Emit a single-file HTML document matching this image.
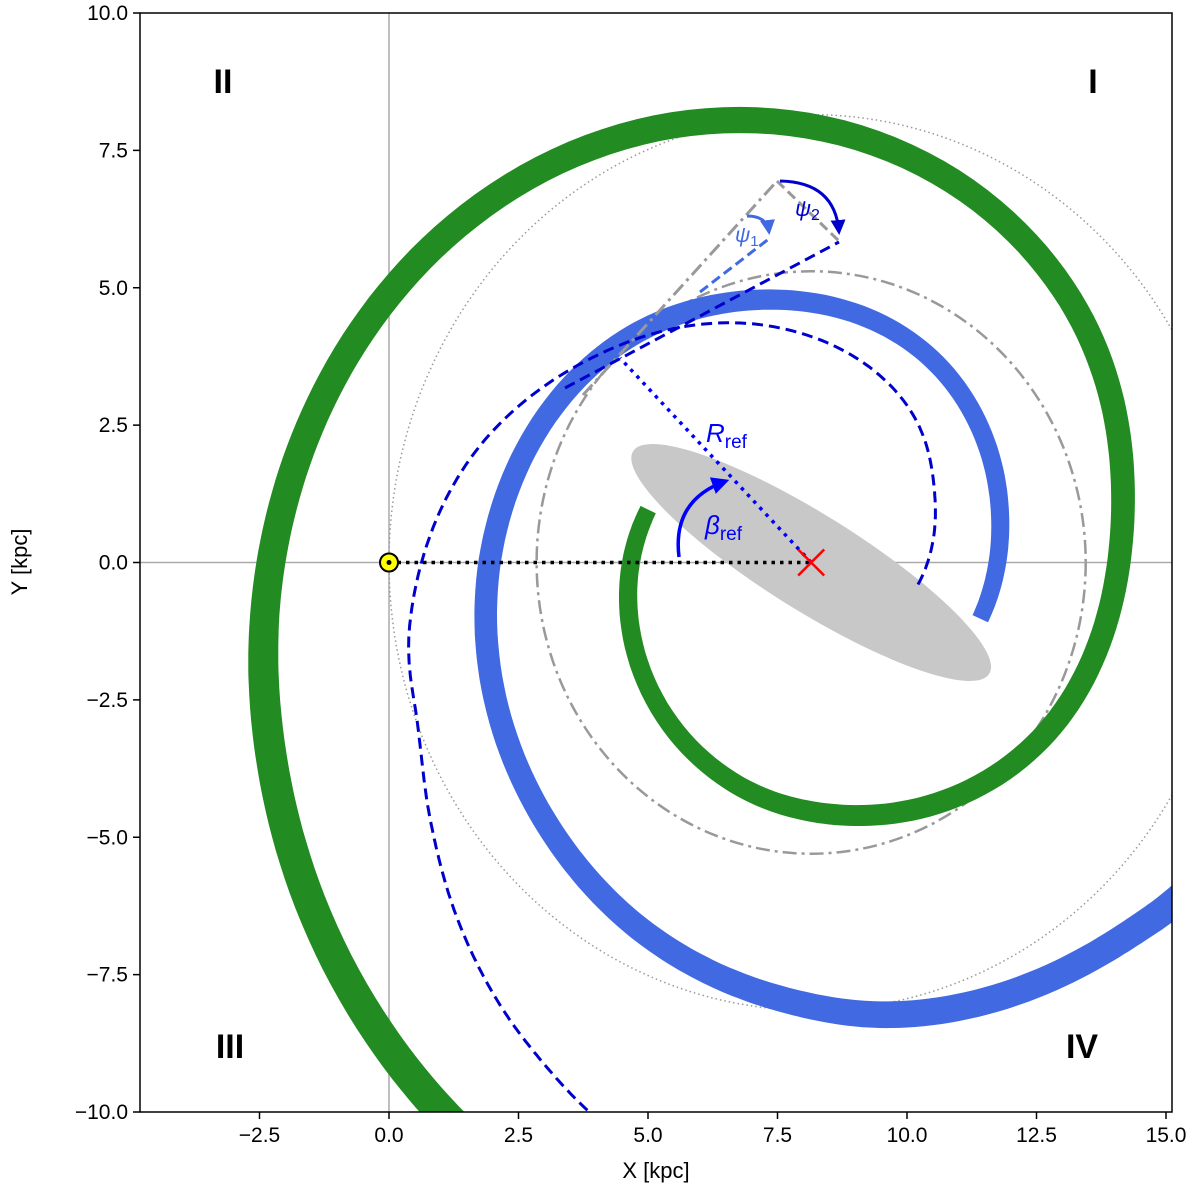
<!DOCTYPE html>
<html><head><meta charset="utf-8"><style>
body{margin:0;background:#fff}
svg text{font-family:"Liberation Sans","DejaVu Sans",sans-serif}
</style></head><body>
<svg id="chart" width="1200" height="1193" viewBox="0 0 1200 1193" xmlns="http://www.w3.org/2000/svg">
<defs>
<clipPath id="plotclip"><rect x="140" y="13" width="1032" height="1099"/></clipPath>
<marker id="arrB" viewBox="0 0 10 10" refX="8" refY="5" markerWidth="5" markerHeight="5" orient="auto"><path d="M0,0 L10,5 L0,10 z" fill="#0000cd"/></marker>
<marker id="arrL" viewBox="0 0 10 10" refX="8" refY="5" markerWidth="5" markerHeight="5" orient="auto"><path d="M0,0 L10,5 L0,10 z" fill="#4169e1"/></marker>
<marker id="arrBl" viewBox="0 0 10 10" refX="8" refY="5" markerWidth="5" markerHeight="5" orient="auto"><path d="M0,0 L10,5 L0,10 z" fill="#0000ff"/></marker>
</defs>
<g id="plot" clip-path="url(#plotclip)"></g>
<g id="axes"></g>
</svg>
<script>
const xTicks=[-2.5,0,2.5,5,7.5,10,12.5,15];
const yTicks=[-10,-7.5,-5,-2.5,0,2.5,5,7.5,10];
const xTickLabels=["−2.5","0.0","2.5","5.0","7.5","10.0","12.5","15.0"];
const yTickLabels=["−10.0","−7.5","−5.0","−2.5","0.0","2.5","5.0","7.5","10.0"];
const gc=[8.15,0];
const sun=[0,0];
const circleRadii=[8.15,5.3];
// arms as polar samples around the Galactic centre: angle (deg, unwrapped) and radius (kpc)
const greenArmTheta=[163,191,248,279,324,365.6,403.7,459.7,509.1,540,549.7,562.8,593.6,602];
const greenArmR=[3.29,3.6,4.26,4.66,5.47,6.03,6.92,8.17,9.5,10.43,10.73,11.14,12.25,12.55];
const blueArmTheta=[-17.4,11.9,56,99.4,136.5,179.5,219.2,244.8,265.7,281.7,308.4,318,325];
const blueArmR=[3.42,3.73,4.35,4.85,5.5,6.2,6.9,7.47,7.96,8.4,9.03,9.33,9.55];
const dashArmTheta=[-11,25.5,55.5,98,133,164,187.7,201.5,212.2,223.4,232.7,240,246.5,250];
const dashArmR=[2.1,2.65,3.37,4.31,5.41,6.85,7.81,8.16,8.70,9.41,10.01,10.45,10.86,11.05];

const X0=140,X1=1172,Y0=13,Y1=1112;
const xmin=(140-389)/51.8, xmax=(1172-389)/51.8;
function sx(v){return X0+(v-xmin)/(xmax-xmin)*(X1-X0);}
function sy(v){return Y1-(v+10)/20*(Y1-Y0);}
const NS="http://www.w3.org/2000/svg";
const plot=document.getElementById('plot'), axes=document.getElementById('axes');
function mk(tag,attrs,parent){const e=document.createElementNS(NS,tag);for(const k in attrs)e.setAttribute(k,attrs[k]);parent.appendChild(e);return e;}

function polarSpline(th,rr,n){const P=th.map((t,i)=>[t,Math.log(rr[i])]);const S=[];
 for(let i=0;i<P.length-1;i++){const p0=P[Math.max(0,i-1)],p1=P[i],p2=P[i+1],p3=P[Math.min(P.length-1,i+2)];
  for(let k=0;k<n;k++){const t=k/n,t2=t*t,t3=t2*t;const q=[0,1].map(j=>0.5*((2*p1[j])+(-p0[j]+p2[j])*t+(2*p0[j]-5*p1[j]+4*p2[j]-p3[j])*t2+(-p0[j]+3*p1[j]-3*p2[j]+p3[j])*t3));S.push(q);}}
 S.push(P[P.length-1]);
 return S.map(([t,l])=>{const a=t*Math.PI/180,r=Math.exp(l);return [sx(gc[0]+r*Math.cos(a)),sy(gc[1]+r*Math.sin(a))];});}
function band(pts,w0,w1){const L=[],R=[];const n=pts.length;
 for(let i=0;i<n;i++){const a=pts[Math.max(0,i-1)],b=pts[Math.min(n-1,i+1)];let dx=b[0]-a[0],dy=b[1]-a[1];const l=Math.hypot(dx,dy)||1;dx/=l;dy/=l;
  const w=(w0+(w1-w0)*i/(n-1))/2;L.push([pts[i][0]-dy*w,pts[i][1]+dx*w]);R.push([pts[i][0]+dy*w,pts[i][1]-dx*w]);}
 return 'M'+L.map(p=>p[0].toFixed(1)+','+p[1].toFixed(1)).join('L')+'L'+R.reverse().map(p=>p[0].toFixed(1)+','+p[1].toFixed(1)).join('L')+'Z';}
function pathOf(pts){return 'M'+pts.map(p=>p[0].toFixed(1)+','+p[1].toFixed(1)).join('L');}

let e=mk('line',{x1:sx(0),x2:sx(0),y1:Y0,y2:Y1,stroke:'#aaa','stroke-width':1.5},plot);

e=mk('line',{x1:X0,x2:X1,y1:sy(0),y2:sy(0),stroke:'#aaa','stroke-width':1.5},plot);

const ecx=sx(gc[0]),ecy=sy(gc[1]);
e=mk('ellipse',{cx:ecx,cy:ecy,rx:210,ry:48,fill:'#c8c8c8',transform:`rotate(32 ${ecx} ${ecy})`},plot);

e=mk('ellipse',{cx:sx(gc[0]),cy:sy(gc[1]),rx:sx(gc[0]+circleRadii[0])-sx(gc[0]),ry:sy(0)-sy(circleRadii[0]),fill:'none',stroke:'#999','stroke-width':1.5,'stroke-dasharray':'1.5 3'},plot);

e=mk('ellipse',{cx:sx(gc[0]),cy:sy(gc[1]),rx:sx(gc[0]+circleRadii[1])-sx(gc[0]),ry:sy(0)-sy(circleRadii[1]),fill:'none',stroke:'#999','stroke-width':2.5,'stroke-dasharray':'14 5 3 5'},plot);

e=mk('path',{d:band(polarSpline(greenArmTheta,greenArmR,24),17,34),fill:'#228b22'},plot);

e=mk('path',{d:band(polarSpline(blueArmTheta,blueArmR,24),17,30),fill:'#4169e1'},plot);

e=mk('path',{d:pathOf(polarSpline(dashArmTheta,dashArmR,24)),fill:'none',stroke:'#0000cd','stroke-width':3,'stroke-dasharray':'11 6'},plot);

function ln(x1,y1,x2,y2,st,name){const l=mk('line',Object.assign({x1,y1,x2,y2},st),plot);return l;}
ln(583,395,777,181,{stroke:'#999','stroke-width':3,'stroke-dasharray':'14 5 3 5'},'tangent-dashdot-line');
ln(777,181,840,242,{stroke:'#999','stroke-width':3,'stroke-dasharray':'10 5'},'gray-dashed-connector');
ln(700,292,770,238,{stroke:'#4169e1','stroke-width':3,'stroke-dasharray':'10 5'},'psi1-tangent-line');
ln(565,388,839,242,{stroke:'#0000cd','stroke-width':3,'stroke-dasharray':'11 6'},'psi2-tangent-line');
ln(sx(sun[0]),sy(0),sx(gc[0]),sy(0),{stroke:'#000','stroke-width':3.5,'stroke-dasharray':'3.5 5'},'sun-gc-line');
ln(sx(gc[0]),sy(gc[1]),620,358,{stroke:'#0000ff','stroke-width':3.5,'stroke-dasharray':'3.5 5.5'},'r-ref-line');
e=mk('path',{d:'M780,181 Q835,182 839,232',fill:'none',stroke:'#0000cd','stroke-width':3,'marker-end':'url(#arrB)'},plot);

e=mk('path',{d:'M747,216 Q767,216 769,232',fill:'none',stroke:'#4169e1','stroke-width':3,'marker-end':'url(#arrL)'},plot);

e=mk('path',{d:'M679,557 Q672,500 726,481',fill:'none',stroke:'#0000ff','stroke-width':3.5,'marker-end':'url(#arrBl)'},plot);

const gx=sx(gc[0]),gy=sy(gc[1]);
e=mk('path',{d:`M${gx-13},${gy-13}L${gx+13},${gy+13}M${gx-13},${gy+13}L${gx+13},${gy-13}`,stroke:'#ff0000','stroke-width':2.5},plot);

e=mk('circle',{cx:sx(sun[0]),cy:sy(sun[1]),r:9,fill:'#ffff00',stroke:'#000','stroke-width':2},axes);

e=mk('circle',{cx:sx(sun[0]),cy:sy(sun[1]),r:2.5,fill:'#000'},axes);

function tx(x,y,s,st,name,parent){const t=mk('text',Object.assign({x,y},st),parent||axes);t.textContent=s;return t;}
const bold={'font-size':34,'font-weight':'bold','text-anchor':'middle',fill:'#000'};
tx(223,93,'II',bold,'quadrant-ii-label');tx(1093,93,'I',bold,'quadrant-i-label');
tx(230,1058,'III',bold,'quadrant-iii-label');tx(1082,1058,'IV',bold,'quadrant-iv-label');
let t=tx(706,442,'',{'font-size':26,fill:'#0000ff','font-style':'italic'},'r-ref-label');t.innerHTML='R<tspan font-style="normal" font-size="19" dy="6">ref</tspan>';
t=tx(705,534,'',{'font-size':26,fill:'#0000ff','font-style':'italic'},'beta-ref-label');t.innerHTML='β<tspan font-style="normal" font-size="19" dy="6">ref</tspan>';
t=tx(795,216,'',{'font-size':22,fill:'#0000cd','font-style':'italic'},'psi2-label');t.innerHTML='ψ<tspan font-style="normal" font-size="16" dy="4">2</tspan>';
t=tx(735,242,'',{'font-size':21,fill:'#4169e1','font-style':'italic'},'psi1-label');t.innerHTML='ψ<tspan font-style="normal" font-size="15" dy="4">1</tspan>';
e=mk('rect',{x:X0,y:Y0,width:X1-X0,height:Y1-Y0,fill:'none',stroke:'#000','stroke-width':1.5},axes);

xTicks.forEach((v,i)=>{const x=sx(v);const l=mk('line',{x1:x,x2:x,y1:Y1,y2:Y1+7,stroke:'#000','stroke-width':1.5},axes);
 
 tx(x,Y1+30,xTickLabels[i],{'font-size':21,'text-anchor':'middle'},'x-tick-label');});
yTicks.forEach((v,i)=>{const y=sy(v);const l=mk('line',{x1:X0-7,x2:X0,y1:y,y2:y,stroke:'#000','stroke-width':1.5},axes);
 
 tx(X0-12,y+7,yTickLabels[i],{'font-size':21,'text-anchor':'end'},'y-tick-label');});
tx(656,1178,'X [kpc]',{'font-size':22,'text-anchor':'middle'},'x-axis-title');
tx(0,0,'Y [kpc]',{'font-size':22,'text-anchor':'middle',transform:'translate(27,562) rotate(-90)'},'y-axis-title');
</script>
</body></html>
